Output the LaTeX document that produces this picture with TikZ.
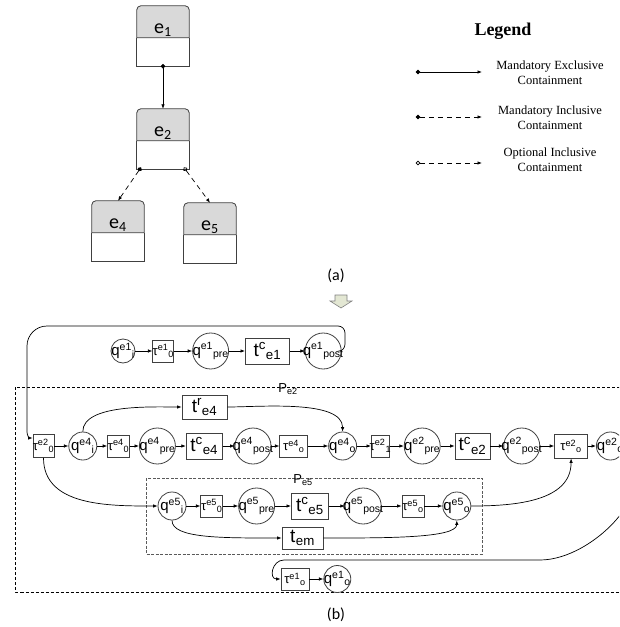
\documentclass[tikz,border=0pt]{standalone}
\usepackage{fontspec}
\setmainfont{Liberation Serif}
\newfontfamily\arialf{Liberation Sans}
\newfontfamily\calibf{Carlito}
\usepackage{xcolor}
\usepackage{tikz}
\usetikzlibrary{arrows.meta, positioning, calc}
\definecolor{cabecera}{HTML}{D9D9D9}
\definecolor{borde}{HTML}{404040}
\definecolor{grisp}{HTML}{5A5A5A}
\definecolor{verdeclaro}{HTML}{E3E7D3}
\definecolor{grisflecha}{HTML}{7F7F7F}

% etiqueta con super- y subindice seguidos
\newcommand{\pl}[3]{\makebox[0pt]{#1\textsuperscript{#2}\textsubscript{#3}}}

% entidad: nombre, posicion, etiqueta
\newcommand{\entidad}[3]{%
  \node[ebox] (#1) at (#2) {};
  \path[eline, fill=cabecera]
    ($(#1.north west)+(0,-32pt)$) -- ($(#1.north west)+(0,-4pt)$)
    arc[start angle=180, end angle=90, radius=4pt]
    -- ($(#1.north east)+(-4pt,0)$)
    arc[start angle=90, end angle=0, radius=4pt]
    -- ($(#1.north east)+(0,-32pt)$) -- cycle;
  \draw[eline] ($(#1.north west)+(0,-32pt)$) |- (#1.south east)
    -- ($(#1.north east)+(0,-32pt)$);
  \node[elabel] at ($(#1.north)+(0,-28pt)$) {#3};
}

\tikzset{
  ebox/.style={rectangle, minimum width=52pt, minimum height=60pt, inner sep=0pt},
  eline/.style={draw=borde, line width=0.8pt},
  elabel/.style={anchor=base, inner sep=0pt, font=\calibf\fontsize{20}{22}\selectfont},
  place/.style={circle, draw=borde, line width=0.8pt, minimum size=28pt,
    inner sep=0pt, font=\arialf\fontsize{15}{17}\selectfont},
  bigplace/.style={place, minimum size=36pt},
  taubox/.style={rectangle, draw=borde, line width=0.8pt, minimum width=22pt,
    minimum height=22pt, inner sep=0pt, font=\arialf\fontsize{13}{15}\selectfont},
  taskbox/.style={rectangle, draw=borde, line width=0.8pt, minimum width=36pt,
    minimum height=26pt, inner sep=0pt, font=\arialf\fontsize{19}{21}\selectfont},
  link/.style={-{Latex[length=4.5pt,width=3.5pt]}, line width=0.7pt},
  region/.style={draw, line width=0.6pt, dash pattern=on 3pt off 2pt},
  rlabel/.style={inner sep=0pt, font=\arialf\fontsize{13}{15}\selectfont},
  mec/.style={{Circle[length=4.5pt]}-{Latex[length=4.5pt,width=3.5pt]},
    line width=0.7pt, shorten <=-2.2pt},
  mic/.style={mec, dash pattern=on 5pt off 4pt},
  oic/.style={{Circle[open,length=4.5pt]}-{Latex[length=4.5pt,width=3.5pt]},
    line width=0.7pt, shorten <=-2.2pt, dash pattern=on 5pt off 4pt},
  leg/.style={align=center, font=\fontsize{12.5}{15}\selectfont}
}

\begin{document}
\begin{tikzpicture}[x=1pt, y=1pt]
  \clip (0,0) rectangle (619,-627);

  % --- (a) Entidades ---
  \entidad{e1}{163,-36}{e\textsubscript{1}}
  \entidad{e2}{163,-139}{e\textsubscript{2}}
  \entidad{e4}{118,-231}{e\textsubscript{4}}
  \entidad{e5}{210,-233}{e\textsubscript{5}}

  \draw[mec] (e1.south) -- (e2.north);
  \draw[mic] ([xshift=3pt]e2.south west) -- (e4.north);
  \draw[oic] ([xshift=-4pt]e2.south east) -- (e5.north);

  % --- Leyenda ---
  \node[font=\bfseries\fontsize{18}{20}\selectfont] (leyenda) at (503,-31) {Legend};
  \coordinate (m1a) at (418,-72);  \coordinate (m1b) at (482,-72);
  \coordinate (m2a) at (418,-117); \coordinate (m2b) at (482,-117);
  \coordinate (m3a) at (418,-163); \coordinate (m3b) at (482,-163);
  \draw[mec] (m1a) -- (m1b);
  \draw[mic] (m2a) -- (m2b);
  \draw[oic] (m3a) -- (m3b);
  \node[leg] (t1) at (550,-73) {Mandatory Exclusive\\Containment};
  \node[leg] (t2) at (550,-118) {Mandatory Inclusive\\Containment};
  \node[leg] (t3) at (550,-160) {Optional Inclusive\\Containment};

  \node[font=\calibf\fontsize{16}{18}\selectfont] (capa) at (336,-276) {(a)};
  \path[draw=grisflecha, fill=verdeclaro, line width=0.6pt]
    (335,-295) -- (347,-295) -- (347,-301) -- (352,-301) -- (341,-308)
    -- (330,-301) -- (335,-301) -- cycle;

  % --- (b) Regiones ---
  \draw[region] (15.5,-387) rectangle (650,-592);
  \node[rlabel] (pe2) at (288,-389) {P\textsubscript{e2}};
  \draw[region, draw=grisp, line width=0.9pt, dash pattern=on 3pt off 1.5pt]
    (146,-478) rectangle (482,-554);
  \node[rlabel] (pe5) at (303,-480) {P\textsubscript{e5}};

  % --- Fila e1 ---
  \node[place, minimum size=24pt] (qe1i) at (123,-351) {\pl{q}{e1}{i}};
  \node[taubox, minimum width=21pt, right=17pt of qe1i] (te10) {\pl{τ}{e1}{0}};
  \node[bigplace, right=18pt of te10] (qe1pre) {\pl{q}{e1}{pre}};
  \node[taskbox, minimum width=44pt, right=16pt of qe1pre] (tce1) {\pl{t}{c}{e1}};
  \node[bigplace, right=15pt of tce1] (qe1post) {\pl{q}{e1}{post}};

  % --- Fila e2 / e4 ---
  \node[taubox, minimum width=21pt, minimum height=23pt] (te20) at (43.5,-446) {\pl{τ}{e2}{0}};
  \node[place, right=14pt of te20] (qe4i) {\pl{q}{e4}{i}};
  \node[taubox, right=10pt of qe4i] (te40) {\pl{τ}{e4}{0}};
  \node[bigplace, right=9pt of te40] (qe4pre) {\pl{q}{e4}{pre}};
  \node[taskbox, right=10pt of qe4pre] (tce4) {\pl{t}{c}{e4}};
  \node[bigplace, right=12pt of tce4] (qe4post) {\pl{q}{e4}{post}};
  \node[taubox, minimum width=28pt, right=8pt of qe4post] (te4o) {\pl{τ}{e4}{o}};
  \node[place, right=20pt of te4o] (qe4o) {\pl{q}{e4}{o}};
  \node[taubox, minimum width=18pt, right=14pt of qe4o] (te21) {\pl{τ}{e2}{1}};
  \node[bigplace, right=14pt of te21] (qe2pre) {\pl{q}{e2}{pre}};
  \node[taskbox, minimum width=35pt, right=14pt of qe2pre] (tce2) {\pl{t}{c}{e2}};
  \node[bigplace, right=13pt of tce2] (qe2post) {\pl{q}{e2}{post}};
  \node[taubox, minimum width=33pt, minimum height=24pt, right=14pt of qe2post] (te2o) {\pl{τ}{e2}{o}};
  \node[place, right=8pt of te2o] (qe2o) {\pl{q}{e2}{o}};

  \node[taskbox, minimum width=45pt, minimum height=24pt] (tre4) at (204.5,-407) {\pl{t}{r}{e4}};

  % --- Fila e5 ---
  \node[place] (qe5i) at (172,-506) {\pl{q}{e5}{i}};
  \node[taubox, right=14pt of qe5i] (te50) {\pl{τ}{e5}{0}};
  \node[bigplace, right=15pt of te50] (qe5pre) {\pl{q}{e5}{pre}};
  \node[taskbox, minimum width=37pt, right=16pt of qe5pre] (tce5) {\pl{t}{c}{e5}};
  \node[bigplace, right=16pt of tce5] (qe5post) {\pl{q}{e5}{post}};
  \node[taubox, right=20pt of qe5post] (te5o) {\pl{τ}{e5}{o}};
  \node[place, right=18pt of te5o] (qe5o) {\pl{q}{e5}{o}};
  \node[taskbox, minimum width=41pt, minimum height=22pt] (tem) at (302.5,-538) {\pl{t}{}{em}};

  % --- Salida e1 ---
  \node[taubox, minimum width=28pt] (te1o) at (295,-579) {\pl{τ}{e1}{o}};
  \node[place, minimum size=27pt, right=14pt of te1o] (qe1o) {\pl{q}{e1}{o}};

  % --- Flechas ---
  \draw[link] (qe1i) -- (te10);
  \draw[link] (te10) -- (qe1pre);
  \draw[link] (qe1pre) -- (tce1);
  \draw[link] (tce1) -- (qe1post);
  % lazo superior hacia la entrada de e2
  \draw[link] (qe1post.east) -- (339,-351) to[out=0, in=-90] (345,-344)
    -- (345,-333) to[out=90, in=0] (338,-326) -- (47,-326)
    to[out=180, in=90] (27,-346) -- (27,-432)
    to[out=-90, in=180] ([yshift=8pt]te20.west);

  \draw[link] (te20) -- (qe4i);
  \draw[link] (qe4i) -- (te40);
  \draw[link] (te40) -- (qe4pre);
  \draw[link] (qe4pre) -- (tce4);
  \draw[link] (tce4) -- (qe4post);
  \draw[link] (qe4post) -- (te4o);
  \draw[link] (te4o) -- (qe4o);
  \draw[link] (qe4o) -- (te21);
  \draw[link] (te21) -- (qe2pre);
  \draw[link] (qe2pre) -- (tce2);
  \draw[link] (tce2) -- (qe2post);
  \draw[link] (qe2post) -- (te2o);
  \draw[link] (te2o) -- (qe2o);
  \draw[link] (qe4i.north) to[out=90, in=180, looseness=0.7] (tre4.west);
  \draw[link] (tre4.east) to[out=0, in=90, looseness=0.7] (qe4o.north);

  \draw[link] (te20.south) to[out=-90, in=180] (qe5i.west);
  \draw[link] (qe5i) -- (te50);
  \draw[link] (te50) -- (qe5pre);
  \draw[link] (qe5pre) -- (tce5);
  \draw[link] (tce5) -- (qe5post);
  \draw[link] (qe5post) -- (te5o);
  \draw[link] (te5o) -- (qe5o);
  \draw[link] (qe5i.south) .. controls +(0,-18) and +(-60,0) .. (tem.west);
  \draw[link] (tem.east) .. controls +(60,0) and +(0,-18) .. (qe5o.south);
  \draw[link] (qe5o.east) to[out=0, in=-90] (te2o.south);

  % vuelta hacia la salida de e1
  \coordinate (vuelta) at (540,-560);
  \draw[link] (qe2o.east) to[out=-40, in=0] (vuelta) -- (284,-560)
    to[out=180, in=180, looseness=1.6] (te1o.west);
  \draw[link] (te1o) -- (qe1o);

  \node[font=\calibf\fontsize{16}{18}\selectfont] (capb) at (336,-615) {(b)};
\end{tikzpicture}
\end{document}
